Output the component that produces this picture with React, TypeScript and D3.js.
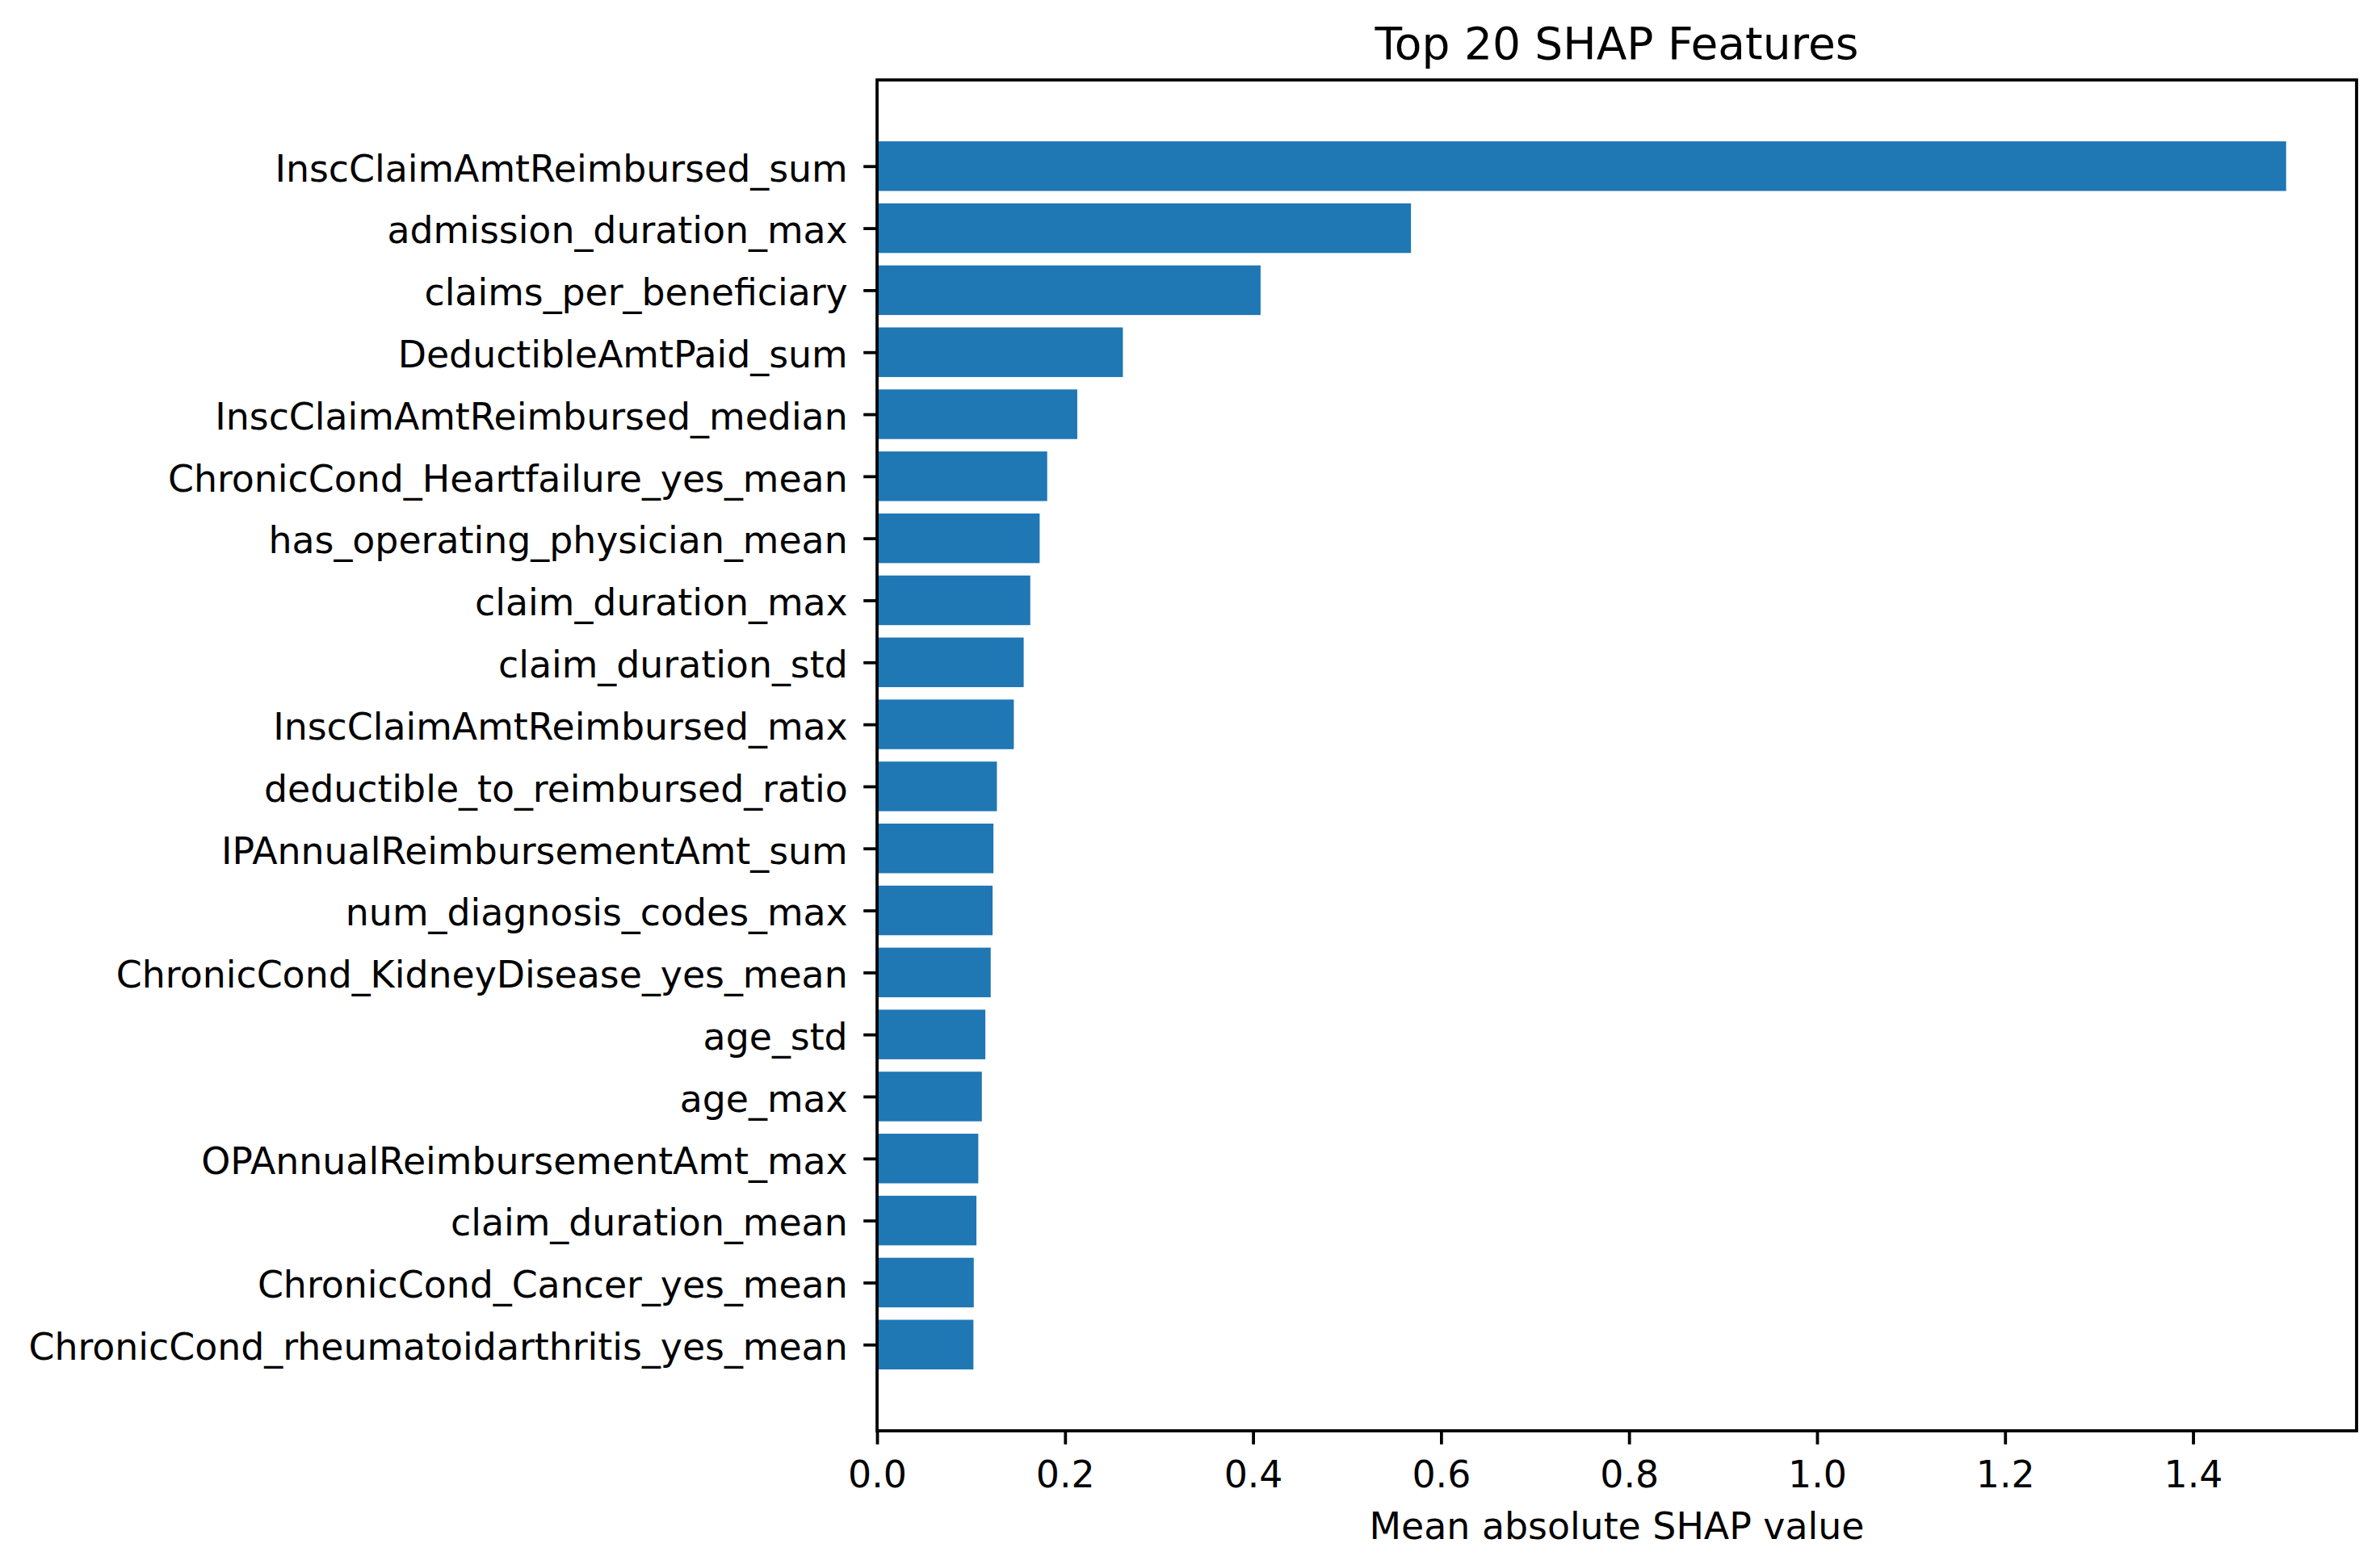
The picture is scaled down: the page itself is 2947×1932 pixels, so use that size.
import React, { useRef, useEffect } from "react";
import * as d3 from "d3";

const features = [
  "InscClaimAmtReimbursed_sum",
  "admission_duration_max",
  "claims_per_beneficiary",
  "DeductibleAmtPaid_sum",
  "InscClaimAmtReimbursed_median",
  "ChronicCond_Heartfailure_yes_mean",
  "has_operating_physician_mean",
  "claim_duration_max",
  "claim_duration_std",
  "InscClaimAmtReimbursed_max",
  "deductible_to_reimbursed_ratio",
  "IPAnnualReimbursementAmt_sum",
  "num_diagnosis_codes_max",
  "ChronicCond_KidneyDisease_yes_mean",
  "age_std",
  "age_max",
  "OPAnnualReimbursementAmt_max",
  "claim_duration_mean",
  "ChronicCond_Cancer_yes_mean",
  "ChronicCond_rheumatoidarthritis_yes_mean",
];

const meanAbsShap = [
  1.499, 0.568, 0.408, 0.2615, 0.213, 0.181, 0.173, 0.163, 0.156, 0.1455,
  0.1275, 0.1238, 0.1229, 0.1209, 0.1152, 0.1115, 0.1077, 0.1057, 0.1029, 0.1025,
];

const xTicks = [0, 0.2, 0.4, 0.6, 0.8, 1.0, 1.2, 1.4];

const titleText = "Top 20 SHAP Features";
const xLabelText = "Mean absolute SHAP value";

const dims = {
  width: 2947,
  height: 1932,
  left: 1086,
  right: 2918,
  top: 99,
  bottom: 1772,
};

const font = "'DejaVu Sans', sans-serif";
const tickFontSize = 45.8;
const titleFontSize = 55;
const barColor = "#1f77b4";
const barHeight = 0.8;

export default function App() {
  const svgRef = useRef<SVGSVGElement | null>(null);

  useEffect(() => {
    if (!svgRef.current) return;
    const svg = d3.select(svgRef.current);
    svg.selectAll("*").remove();

    const xMax = (d3.max(meanAbsShap) as number) * 1.05;
    const xScale = d3.scaleLinear().domain([0, xMax]).range([dims.left, dims.right]);

    const n = features.length;
    const yPad = 0.05 * (n - 1 + barHeight);
    const yScale = d3
      .scaleLinear()
      .domain([-barHeight / 2 - yPad, n - 1 + barHeight / 2 + yPad])
      .range([dims.top, dims.bottom]);

    svg.append("rect").attr("width", dims.width).attr("height", dims.height).attr("fill", "#fff");

    // bars
    svg
      .append("g")
      .selectAll("rect")
      .data(meanAbsShap)
      .join("rect")
      .attr("x", xScale(0))
      .attr("y", (_d, i) => yScale(i - barHeight / 2))
      .attr("width", (d) => xScale(d) - xScale(0))
      .attr("height", yScale(barHeight) - yScale(0))
      .attr("fill", barColor);

    // axes
    const xAxis = d3
      .axisBottom(xScale)
      .tickValues(xTicks)
      .tickFormat((d) => d3.format(".1f")(d as number))
      .tickSize(16.8)
      .tickSizeOuter(0)
      .tickPadding(20.5);

    const yAxis = d3
      .axisLeft(yScale)
      .tickValues(d3.range(n))
      .tickFormat((d) => features[d as number])
      .tickSize(16.8)
      .tickSizeOuter(0)
      .tickPadding(19.5);

    const gx = svg.append("g").attr("transform", `translate(0,${dims.bottom})`).call(xAxis);
    const gy = svg.append("g").attr("transform", `translate(${dims.left},0)`).call(yAxis);

    [gx, gy].forEach((g) => {
      g.select(".domain").remove();
      g.selectAll("line").attr("stroke", "#000").attr("stroke-width", 3.8);
      g.selectAll("text")
        .attr("fill", "#000")
        .style("font-family", font)
        .style("font-size", `${tickFontSize}px`);
    });
    gy.selectAll("text").attr("dy", "0.4em");

    // spines
    svg
      .append("rect")
      .attr("x", dims.left)
      .attr("y", dims.top)
      .attr("width", dims.right - dims.left)
      .attr("height", dims.bottom - dims.top)
      .attr("fill", "none")
      .attr("stroke", "#000")
      .attr("stroke-width", 3.8);

    const cx = (dims.left + dims.right) / 2;

    svg
      .append("text")
      .attr("x", cx)
      .attr("y", 72.7)
      .attr("text-anchor", "middle")
      .style("font-family", font)
      .style("font-size", `${titleFontSize}px`)
      .attr("fill", "#000")
      .text(titleText);

    svg
      .append("text")
      .attr("x", cx)
      .attr("y", 1906)
      .attr("text-anchor", "middle")
      .style("font-family", font)
      .style("font-size", `${tickFontSize}px`)
      .attr("fill", "#000")
      .text(xLabelText);
  }, []);

  return (
    <svg
      ref={svgRef}
      width={dims.width}
      height={dims.height}
      style={{ position: "absolute", left: 0, top: 0, display: "block" }}
    />
  );
}
